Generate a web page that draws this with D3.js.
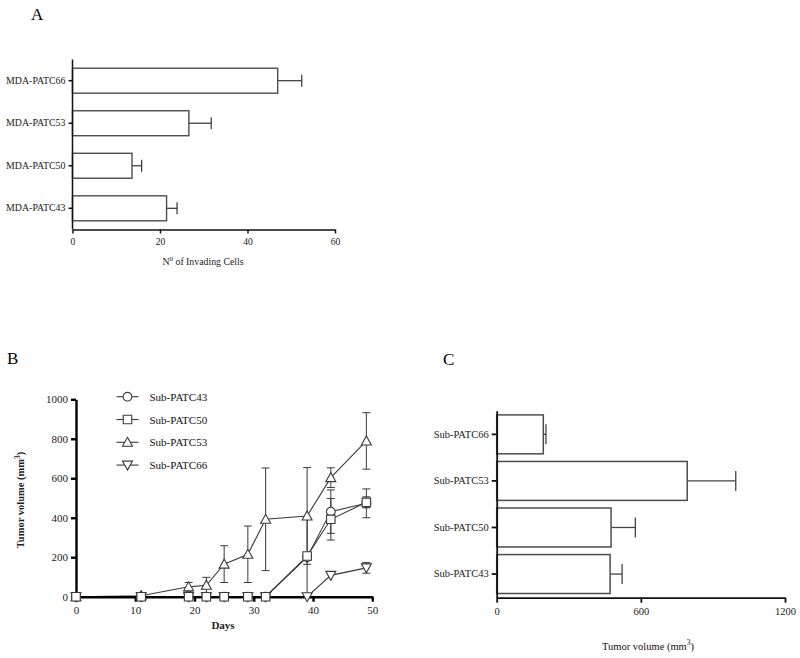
<!DOCTYPE html>
<html><head><meta charset="utf-8">
<script src="https://cdn.jsdelivr.net/npm/d3@7"></script>
<style>body{margin:0;background:#fff}svg, svg text{font-family:"Liberation Serif","Times New Roman",serif !important}</style>
</head><body>
<script>
// Panel A data
const catsA = ["MDA-PATC66","MDA-PATC53","MDA-PATC50","MDA-PATC43"];
const valsA = [46.9, 26.6, 13.6, 21.5];
const errA  = [5.5, 5.1, 2.2, 2.4];
const ticksA = [0, 20, 40, 60];

// Panel B data
const days = [0, 11, 19, 22, 25, 29, 32, 39, 43, 49];
const seriesNames = ["Sub-PATC43","Sub-PATC50","Sub-PATC53","Sub-PATC66"];
const sub43 = [0, 0, 0, 0, 0, 0, 0, 200, 431, 473];
const sub43err = [0, 0, 0, 0, 0, 0, 0, 200, 110, 73];
const sub50 = [0, 0, 0, 0, 0, 0, 0, 206, 392, 478];
const sub50err = [0, 0, 0, 0, 0, 0, 0, 0, 105, 28];
const sub53 = [0, 5, 50, 58, 165, 215, 392, 409, 603, 789];
const sub53err = [0, 0, 22, 40, 93, 143, 260, 245, 50, 143];
const sub66 = [0, 0, 0, 0, 0, 0, 0, 0, 108, 146];
const sub66err = [0, 0, 0, 0, 0, 0, 0, 0, 0, 27];
const ticksBx = [0, 10, 20, 30, 40, 50];
const ticksBy = [0, 200, 400, 600, 800, 1000];

// Panel C data
const catsC = ["Sub-PATC66","Sub-PATC53","Sub-PATC50","Sub-PATC43"];
const valsC = [194, 793, 476, 472];
const errC  = [11, 202, 101, 50];
const ticksC = [0, 600, 1200];

const svg = d3.select("body").append("svg").attr("width",800).attr("height",658);
const barStroke = "#4d4d4d";
const fmt = d3.format("d");
function styleAxis(a, sw, fs, col){
  a.attr("font-family",null);
  a.selectAll("path,line").attr("stroke",col).attr("stroke-width",sw);
  a.selectAll("text").style("font-family","'Liberation Serif', serif").style("font-size",fs+"px").attr("fill","#1a1a1a");
}

// ---------- Panel A ----------
svg.append("text").attr("x",31).attr("y",20).style("font-size","17px").text("A");
const xA = d3.scaleLinear().domain([0,60]).range([72.5,335]);
const yA = d3.scaleBand().domain(catsA).range([59.5,229.5]).paddingInner(0.413).paddingOuter(0.205);
const gA = svg.append("g");
catsA.forEach((c,i)=>{
  const y0 = yA(c), h = yA.bandwidth(), yc = y0+h/2;
  gA.append("line").attr("x1",xA(valsA[i])).attr("x2",xA(valsA[i]+errA[i])).attr("y1",yc).attr("y2",yc).attr("stroke","#333").attr("stroke-width",1.2);
  gA.append("line").attr("x1",xA(valsA[i]+errA[i])).attr("x2",xA(valsA[i]+errA[i])).attr("y1",yc-6).attr("y2",yc+6).attr("stroke","#333").attr("stroke-width",1.2);
  gA.append("rect").attr("x",xA(0)).attr("y",y0).attr("width",xA(valsA[i])-xA(0)).attr("height",h).attr("fill","#fff").attr("stroke",barStroke).attr("stroke-width",1.4);
});
const axA = gA.append("g").attr("transform","translate(0,229.5)").call(d3.axisBottom(xA).tickValues(ticksA).tickFormat(fmt).tickSize(4).tickSizeOuter(0));
const ayA = gA.append("g").attr("transform","translate(72.5,0)").call(d3.axisLeft(yA).tickSize(4).tickSizeOuter(0));
styleAxis(axA,1.5,9.6,"#111"); styleAxis(ayA,1.5,9.9,"#111");
ayA.select(".domain").attr("d","M0,59.5V229.5");
axA.selectAll("text").attr("dy","0.9em");
const tA = gA.append("text").attr("x",203).attr("y",265).attr("text-anchor","middle").style("font-size","9.8px").attr("fill","#222");
tA.append("tspan").text("N");
tA.append("tspan").attr("dy",-4).style("font-size","7px").text("0");
tA.append("tspan").attr("dy",4).text(" of Invading Cells");

// ---------- Panel B ----------
svg.append("text").attr("x",7).attr("y",364).style("font-size","17px").text("B");
const xB = d3.scaleLinear().domain([0,50]).range([76,372.3]);
const yB = d3.scaleLinear().domain([0,1000]).range([596.7,399.3]);
const gB = svg.append("g");
const lineCol = "#3a3a3a";
const sets = [
  {name:seriesNames[0], v:sub43, e:sub43err, sym:d3.symbolCircle},
  {name:seriesNames[1], v:sub50, e:sub50err, sym:d3.symbolSquare},
  {name:seriesNames[2], v:sub53, e:sub53err, sym:d3.symbolTriangle},
  {name:seriesNames[3], v:sub66, e:sub66err, sym:"down"}
];
function drawSym(g, s, x, y){
  if (s==="down"){
    g.append("path").attr("d",`M${x-5},${y-4}L${x+5},${y-4}L${x},${y+5}Z`).attr("fill","#fff").attr("stroke",lineCol).attr("stroke-width",1.1);
  } else if (s===d3.symbolTriangle){
    g.append("path").attr("d",`M${x-5},${y+4}L${x+5},${y+4}L${x},${y-5}Z`).attr("fill","#fff").attr("stroke",lineCol).attr("stroke-width",1.1);
  } else {
    g.append("path").attr("transform",`translate(${x},${y})`).attr("d",d3.symbol().type(s).size(s===d3.symbolCircle?60:72)()).attr("fill","#fff").attr("stroke",lineCol).attr("stroke-width",1.1);
  }
}
// error bars
sets.forEach(s=>{
  days.forEach((d,i)=>{
    if (s.e[i]>0){
      const x = xB(d), lo = Math.max(0,s.v[i]-s.e[i]), hi = s.v[i]+s.e[i];
      gB.append("line").attr("x1",x).attr("x2",x).attr("y1",yB(lo)).attr("y2",yB(hi)).attr("stroke",lineCol).attr("stroke-width",1);
      gB.append("line").attr("x1",x-4).attr("x2",x+4).attr("y1",yB(hi)).attr("y2",yB(hi)).attr("stroke",lineCol).attr("stroke-width",1);
      gB.append("line").attr("x1",x-4).attr("x2",x+4).attr("y1",yB(lo)).attr("y2",yB(lo)).attr("stroke",lineCol).attr("stroke-width",1);
    }
  });
});
// lines
sets.forEach(s=>{
  const ln = d3.line().x((d,i)=>xB(days[i])).y(d=>yB(d));
  gB.append("path").attr("d",ln(s.v)).attr("fill","none").attr("stroke",lineCol).attr("stroke-width",1.1);
});
// axes
const axB = gB.append("g").attr("transform","translate(0,596.7)").call(d3.axisBottom(xB).tickValues(ticksBx).tickFormat(fmt).tickSize(5).tickSizeOuter(0));
const ayB = gB.append("g").attr("transform","translate(76,0)").call(d3.axisLeft(yB).tickValues(ticksBy).tickFormat(fmt).tickSize(5).tickSizeOuter(0));
styleAxis(axB,2.4,11,"#000"); styleAxis(ayB,2.4,11,"#000");
axB.selectAll("text").attr("dy","0.85em");
// markers (drawn so squares end on top, as in the reference)
[3,2,0,1].forEach(k=>{
  const s = sets[k];
  days.forEach((d,i)=>drawSym(gB,s.sym,xB(d),yB(s.v[i])));
});
// legend
sets.forEach((s,i)=>{
  const y = 396.7 + i*22.8;
  gB.append("line").attr("x1",116.5).attr("x2",138.5).attr("y1",y).attr("y2",y).attr("stroke",lineCol).attr("stroke-width",1.1);
  drawSym(gB,s.sym,127.5,y);
  gB.append("text").attr("x",149.5).attr("y",y+4).style("font-size","11px").attr("fill","#111").text(s.name);
});
gB.append("text").attr("x",223).attr("y",629).attr("text-anchor","middle").style("font-size","11px").attr("font-weight","bold").attr("fill","#222").text("Days");
const tB = gB.append("text").attr("transform","translate(24,500) rotate(-90)").attr("text-anchor","middle").style("font-size","10.5px").attr("font-weight","bold").attr("fill","#222");
tB.append("tspan").text("Tumor volume (mm");
tB.append("tspan").attr("dy",-4).style("font-size","7.5px").text("3");
tB.append("tspan").attr("dy",4).text(")");

// ---------- Panel C ----------
svg.append("text").attr("x",443).attr("y",365).style("font-size","17px").text("C");
const xC = d3.scaleLinear().domain([0,1200]).range([496.7,785]);
const yC = d3.scaleBand().domain(catsC).range([410.7,597.7]).paddingInner(0.164).paddingOuter(0.09);
const gC = svg.append("g");
catsC.forEach((c,i)=>{
  const y0 = yC(c), h = yC.bandwidth(), yc = y0+h/2;
  gC.append("line").attr("x1",xC(valsC[i])).attr("x2",xC(valsC[i]+errC[i])).attr("y1",yc).attr("y2",yc).attr("stroke","#444").attr("stroke-width",1.3);
  gC.append("line").attr("x1",xC(valsC[i]+errC[i])).attr("x2",xC(valsC[i]+errC[i])).attr("y1",yc-10).attr("y2",yc+10).attr("stroke","#444").attr("stroke-width",1.3);
  gC.append("rect").attr("x",xC(0)).attr("y",y0).attr("width",xC(valsC[i])-xC(0)).attr("height",h).attr("fill","#fff").attr("stroke",barStroke).attr("stroke-width",1.5);
});
const axC = gC.append("g").attr("transform","translate(0,597.7)").call(d3.axisBottom(xC).tickValues(ticksC).tickFormat(fmt).tickSize(5).tickSizeOuter(0));
const ayC = gC.append("g").attr("transform","translate(496.7,0)").call(d3.axisLeft(yC).tickSize(5).tickSizeOuter(0));
styleAxis(axC,1.8,10.5,"#111"); styleAxis(ayC,1.8,10.5,"#111");
axC.selectAll("text").attr("dy","0.9em");
const tC = gC.append("text").attr("x",648).attr("y",650).attr("text-anchor","middle").style("font-size","10.5px").attr("fill","#111");
tC.append("tspan").text("Tumor volume (mm");
tC.append("tspan").attr("dy",-5).style("font-size","7.5px").text("3");
tC.append("tspan").attr("dy",5).text(")");
</script>
</body></html>
